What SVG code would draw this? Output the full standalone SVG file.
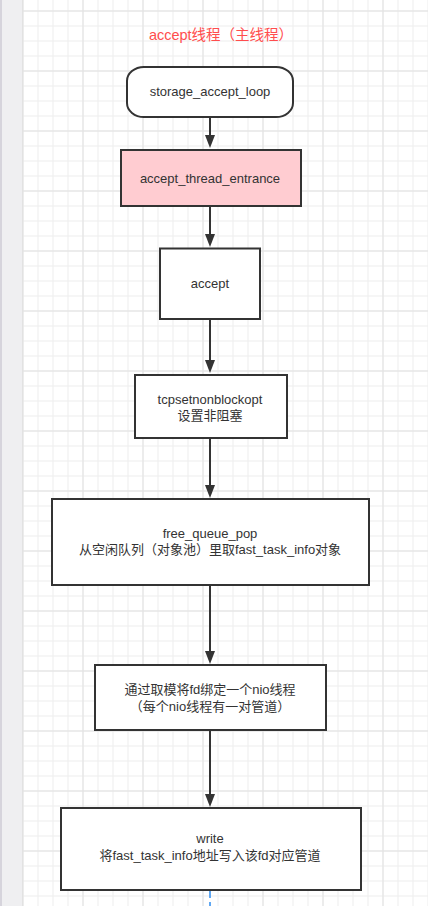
<svg xmlns="http://www.w3.org/2000/svg" width="428" height="906" viewBox="0 0 428 906">
  <defs>
    <pattern id="minor" x="22.5" y="10.5" width="15" height="15" patternUnits="userSpaceOnUse">
      <path d="M0 0.5H15M0.5 0V15" fill="none" stroke="#ededed" stroke-width="1"/>
    </pattern>
    <pattern id="major" x="22.5" y="10.5" width="60" height="60" patternUnits="userSpaceOnUse">
      <path d="M0 0.5H60M0.5 0V60" fill="none" stroke="#e2e2e2" stroke-width="1"/>
    </pattern>
  </defs>
  <style>
    .box { fill: #ffffff; stroke: #333333; stroke-width: 2; }
    .pink { fill: #ffccd1; }
    .lbl { font-family: "Liberation Sans", "Noto Sans CJK SC", sans-serif; font-size: 13px; fill: #333333; text-anchor: middle; }
    .title { font-family: "Liberation Sans", "Noto Sans CJK SC", sans-serif; font-size: 14.5px; fill: #ff4d4d; text-anchor: middle; }
    .conn { fill: none; stroke: #333333; stroke-width: 2; }
    .head { fill: #333333; }
  </style>

  <rect x="0" y="0" width="428" height="906" fill="#ffffff"/>
  <rect x="22" y="0" width="406" height="906" fill="url(#minor)"/>
  <rect x="22" y="0" width="406" height="906" fill="url(#major)"/>
  <rect x="0" y="0" width="22" height="906" fill="#efeff1"/>
  <rect x="0" y="0" width="2" height="906" fill="#d6d4dc"/>
  <line x1="22.5" y1="0" x2="22.5" y2="906" stroke="#e2e2e2" stroke-width="1"/>

  <g id="title">
    <text class="title" x="221" y="40">accept线程（主线程）</text>
  </g>

  <g id="connectors">
    <line class="conn" x1="210" y1="117" x2="210" y2="135"/>
    <path class="head" d="M205 135L215 135L210 148Z"/>
    <line class="conn" x1="210" y1="206" x2="210" y2="234"/>
    <path class="head" d="M205 234L215 234L210 247Z"/>
    <line class="conn" x1="210" y1="319" x2="210" y2="360"/>
    <path class="head" d="M205 360L215 360L210 373Z"/>
    <line class="conn" x1="210" y1="438" x2="210" y2="485"/>
    <path class="head" d="M205 485L215 485L210 498Z"/>
    <line class="conn" x1="210" y1="585" x2="210" y2="651"/>
    <path class="head" d="M205 651L215 651L210 664Z"/>
    <line class="conn" x1="210" y1="730" x2="210" y2="794"/>
    <path class="head" d="M205 794L215 794L210 807Z"/>
    <line x1="210" y1="891" x2="210" y2="906" stroke="#2d8cf0" stroke-width="1.5" stroke-dasharray="7 4"/>
  </g>

  <g id="storage_accept_loop">
    <rect class="box" x="127" y="67" width="166" height="50" rx="17" ry="14"/>
    <text class="lbl" x="210" y="96">storage_accept_loop</text>
  </g>

  <g id="accept_thread_entrance">
    <rect class="box pink" x="121" y="150" width="180" height="56"/>
    <text class="lbl" x="210" y="183">accept_thread_entrance</text>
  </g>

  <g id="accept">
    <rect class="box" x="160" y="248.5" width="100" height="70.5"/>
    <text class="lbl" x="210" y="288">accept</text>
  </g>

  <g id="tcpsetnonblockopt">
    <rect class="box" x="135" y="375" width="152" height="63"/>
    <text class="lbl" x="210" y="403.5">tcpsetnonblockopt</text>
    <text class="lbl" x="210" y="420">设置非阻塞</text>
  </g>

  <g id="free_queue_pop">
    <rect class="box" x="52" y="499" width="317" height="86"/>
    <text class="lbl" x="210" y="537.5">free_queue_pop</text>
    <text class="lbl" x="210" y="554">从空闲队列（对象池）里取fast_task_info对象</text>
  </g>

  <g id="bind_nio">
    <rect class="box" x="95" y="665" width="231" height="65"/>
    <text class="lbl" x="210" y="694">通过取模将fd绑定一个nio线程</text>
    <text class="lbl" x="210" y="711">（每个nio线程有一对管道）</text>
  </g>

  <g id="write">
    <rect class="box" x="61" y="808" width="300" height="82"/>
    <text class="lbl" x="210" y="843">write</text>
    <text class="lbl" x="210" y="860">将fast_task_info地址写入该fd对应管道</text>
  </g>
</svg>
